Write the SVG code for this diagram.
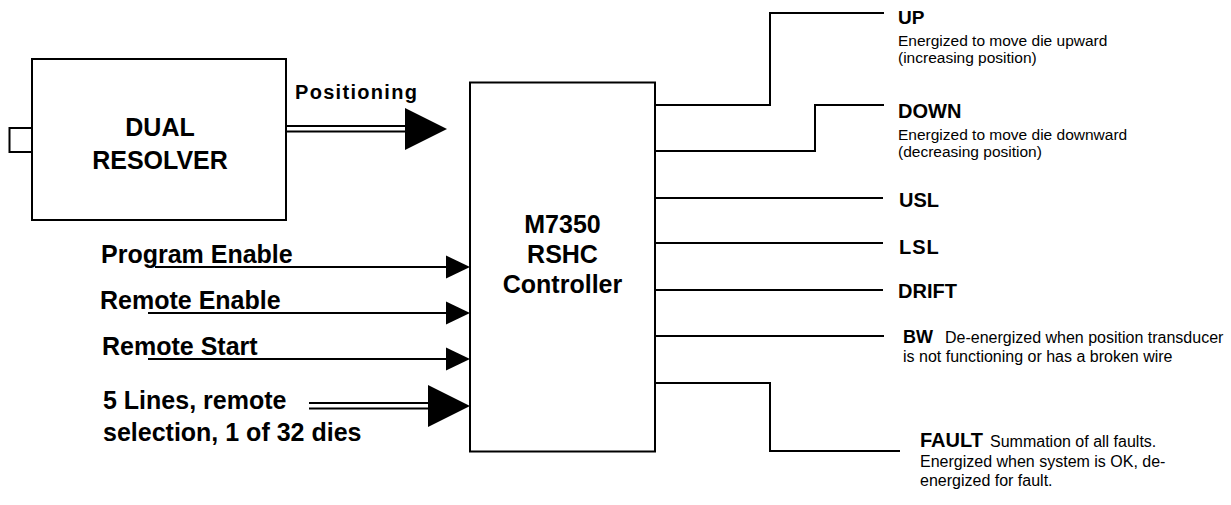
<svg xmlns="http://www.w3.org/2000/svg" width="1231" height="505" viewBox="0 0 1231 505">
<style>
.box{fill:#fff;stroke:#000;stroke-width:2}
.ln{fill:none;stroke:#000;stroke-width:2}
.ah{fill:#000;stroke:none}
text{font-family:"Liberation Sans",Arial,sans-serif;fill:#000}
.big{font-size:25px;font-weight:bold}
.lbl{font-size:20px;font-weight:bold}
.sub{font-size:15.5px}
.sub2{font-size:16px}
</style>
<rect width="1231" height="505" fill="#fff"/>
<g id="resolver">
<rect class="box" x="9.5" y="128" width="22.5" height="24"/>
<rect class="box" x="32" y="59" width="254" height="161"/>
<text class="big" x="160" y="136" text-anchor="middle">DUAL</text>
<text class="big" x="160" y="169" text-anchor="middle">RESOLVER</text>
</g>
<g id="controller">
<rect class="box" x="470" y="82.5" width="185" height="369"/>
<text class="big" x="562.5" y="233" text-anchor="middle">M7350</text>
<text class="big" x="562.5" y="263" text-anchor="middle">RSHC</text>
<text class="big" x="562.5" y="293" text-anchor="middle">Controller</text>
</g>
<g id="connectors">
<line class="ln" x1="286" y1="126" x2="406" y2="126"/>
<line class="ln" x1="286" y1="131.5" x2="406" y2="131.5"/>
<polygon class="ah" points="405,108 447,129 405,150"/>
<line class="ln" x1="155" y1="267" x2="447" y2="267"/>
<polygon class="ah" points="446,255.5 470,267 446,278.5"/>
<line class="ln" x1="148" y1="313" x2="447" y2="313"/>
<polygon class="ah" points="446,301.5 470,313 446,324.5"/>
<line class="ln" x1="148" y1="359" x2="447" y2="359"/>
<polygon class="ah" points="446,347.5 470,359 446,370.5"/>
<line class="ln" x1="309" y1="403" x2="429" y2="403"/>
<line class="ln" x1="309" y1="408.5" x2="429" y2="408.5"/>
<polygon class="ah" points="428,385 470,406 428,427"/>
<polyline class="ln" points="655,105 770,105 770,13 884,13"/>
<polyline class="ln" points="655,151 815,151 815,105 884,105"/>
<line class="ln" x1="655" y1="198" x2="883" y2="198"/>
<line class="ln" x1="655" y1="243" x2="883" y2="243"/>
<line class="ln" x1="655" y1="290" x2="883" y2="290"/>
<line class="ln" x1="655" y1="336" x2="884" y2="336"/>
<polyline class="ln" points="655,383 770,383 770,451 900,451"/>
</g>
<g id="labels-in">
<text x="295" y="99" style="font-size:20px;font-weight:bold;letter-spacing:1.3px">Positioning</text>
<text class="big" x="101" y="263">Program Enable</text>
<text class="big" x="100" y="309">Remote Enable</text>
<text class="big" x="102" y="355">Remote Start</text>
<text class="big" x="103" y="409">5 Lines, remote</text>
<text class="big" x="103" y="441">selection, 1 of 32 dies</text>
</g>
<g id="out-up">
<text x="898" y="24" style="font-size:19px;font-weight:bold">UP</text>
<text class="sub" x="898" y="46">Energized to move die upward</text>
<text class="sub" x="898" y="63">(increasing position)</text>
</g>
<g id="out-down">
<text class="lbl" x="898" y="118">DOWN</text>
<text class="sub" x="898" y="140">Energized to move die downward</text>
<text class="sub" x="898" y="157">(decreasing position)</text>
</g>
<g id="out-usl"><text class="lbl" x="899" y="207">USL</text></g>
<g id="out-lsl"><text class="lbl" x="899" y="254" style="letter-spacing:1px">LSL</text></g>
<g id="out-drift"><text class="lbl" x="898" y="298">DRIFT</text></g>
<g id="out-bw">
<text x="903" y="343" style="font-size:18px;font-weight:bold">BW</text>
<text class="sub2" x="945" y="343">De-energized when position transducer</text>
<text class="sub2" x="903" y="362">is not functioning or has a broken wire</text>
</g>
<g id="out-fault">
<text class="lbl" x="920" y="447">FAULT</text>
<text class="sub2" x="990" y="447">Summation of all faults.</text>
<text class="sub2" x="920" y="467">Energized when system is OK, de-</text>
<text class="sub2" x="920" y="486">energized for fault.</text>
</g>
</svg>
